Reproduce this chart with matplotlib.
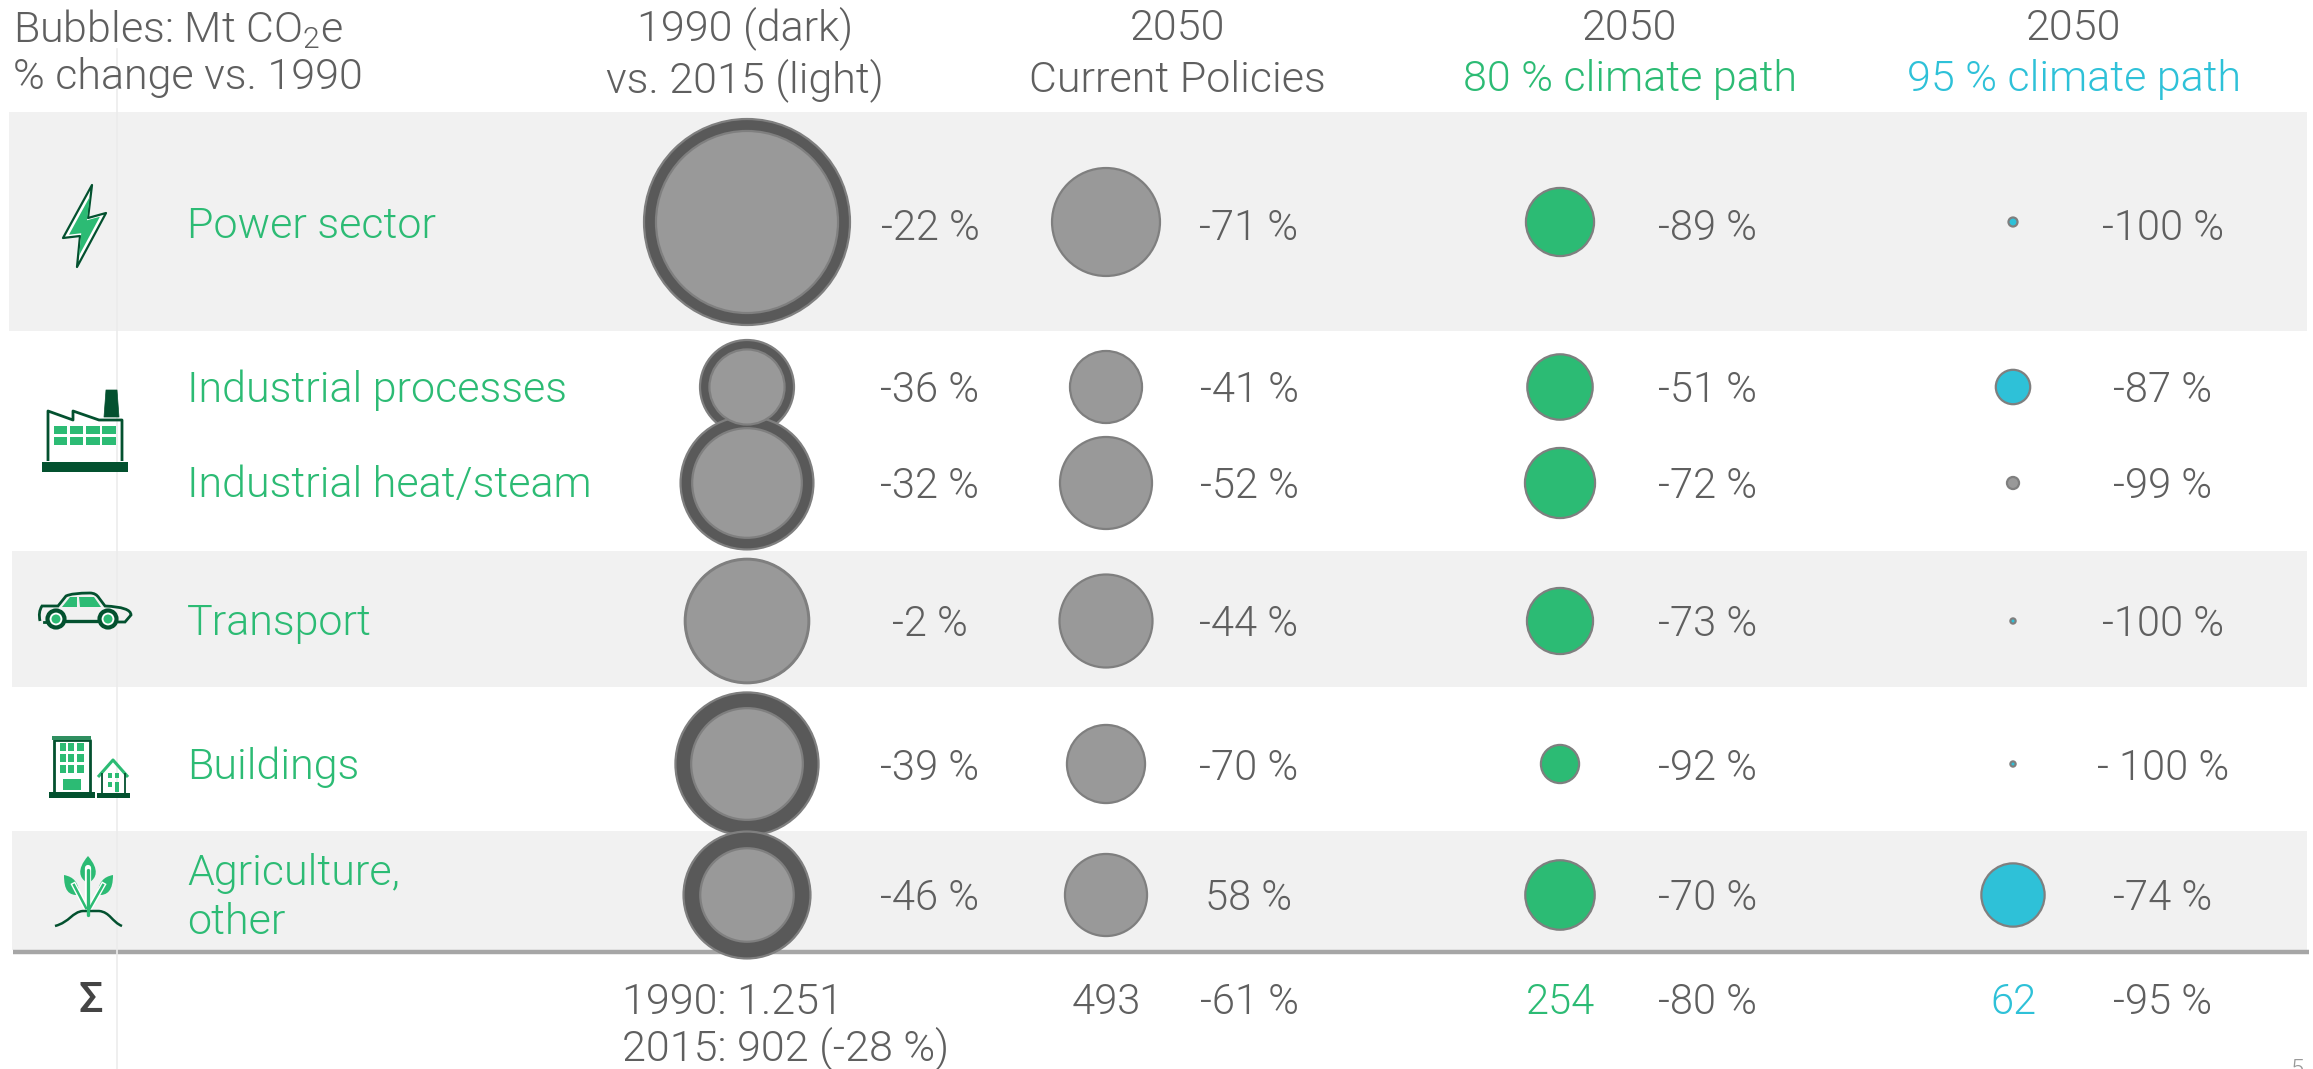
import numpy as np
import matplotlib
matplotlib.use("Agg")
import matplotlib.pyplot as plt
import matplotlib.patches as patches
from matplotlib.path import Path

plt.rcParams['font.family'] = ['Roboto', 'DejaVu Sans']
plt.rcParams['font.weight'] = 300
plt.rcParams['mathtext.default'] = 'regular'

# ------------------------
# Data (Mt CO2e, read from the bubbles)
# ------------------------
sectors = ["Power sector", "Industrial processes", "Industrial heat/steam",
           "Transport", "Buildings", "Agriculture,\nother"]
mt_1990 = [466, 97, 194, 170, 225, 177]
mt_2015 = [364, 62, 132, 166, 137, 96]
mt_current = [128, 57, 93, 95, 67, 74]
mt_80 = [51, 47, 54, 48, 16, 53]
mt_95 = [0.9, 13, 1.6, 0.3, 0.3, 44]

pct_2015 = ["-22 %", "-36 %", "-32 %", "-2 %", "-39 %", "-46 %"]
pct_current = ["-71 %", "-41 %", "-52 %", "-44 %", "-70 %", "58 %"]
pct_80 = ["-89 %", "-51 %", "-72 %", "-73 %", "-92 %", "-70 %"]
pct_95 = ["-100 %", "-87 %", "-99 %", "-100 %", "- 100 %", "-74 %"]

total_labels = ["493", "254", "62"]
total_pcts = ["-61 %", "-80 %", "-95 %"]

# ------------------------
# Layout (pixels of the 2313x1069 picture)
# ------------------------
W, H = 2313, 1069
ROW_Y = [222, 387, 483, 621, 764, 895]
TXT_Y = [228, 391, 487, 624, 768, 899]
COL_BUBBLE = [747, 1106, 1560, 2013]
COL_PCT = [930, 1249, 1708, 2163]
S_PER_MT = 47.2

GREEN = '#2cbb74'
DARKGREEN = '#03512f'
TEAL = '#2ec1d8'
GRIS = '#5f5f5f'
FS = 31
FS_PCT = 30

fig = plt.figure(figsize=(W / 100, H / 100), dpi=100)
ax = fig.add_axes([0, 0, 1, 1])
ax.set_xlim(0, W)
ax.set_ylim(H, 0)
ax.axis('off')

# Bands and lines
for x0, y0, y1 in [(9, 112, 331), (12, 551, 687), (12, 831, 950)]:
    ax.add_patch(patches.Rectangle((x0, y0), 2307 - x0, y1 - y0, facecolor='#f1f1f1', edgecolor='none', zorder=0))
ax.plot([13, 2309], [952, 952], color='#a6a6a6', lw=3.2, solid_capstyle='butt', zorder=1)
ax.plot([117, 117], [49, H], color='#ececec', lw=1.2, zorder=1.5)


def burbuja(x, y, mt, fondo, zorder=3, borde='#7f7f7f', lw=1.6):
    ax.scatter(x, y, s=S_PER_MT * np.asarray(mt), facecolor=fondo, edgecolor=borde, linewidth=lw, zorder=zorder)


# Bubbles
col1 = [COL_BUBBLE[0]] * 6
burbuja(col1, ROW_Y, mt_1990, '#595959', zorder=3)
burbuja(col1, ROW_Y, mt_2015, '#999999', zorder=4)
burbuja([COL_BUBBLE[1]] * 6, ROW_Y, mt_current, '#999999')
burbuja([COL_BUBBLE[2]] * 6, ROW_Y, mt_80, GREEN)
colores_95 = [TEAL, TEAL, '#999999', TEAL, TEAL, TEAL]
burbuja([COL_BUBBLE[3]] * 6, ROW_Y, mt_95, colores_95)


def texto(x, y, s, color=GRIS, ha='center', size=FS, **kw):
    ax.text(x, y, s, color=color, ha=ha, va='center', fontsize=size, zorder=6, **kw)


# Sector names and percentages
for nombre, y in zip(sectors, TXT_Y):
    if "\n" in nombre:
        a, b = nombre.split("\n")
        texto(187, 874, a, color=GREEN, ha='left')
        texto(187, 922, b, color=GREEN, ha='left')
    else:
        texto(187, y - 1, nombre, color=GREEN, ha='left')

for x, lista in zip(COL_PCT, [pct_2015, pct_current, pct_80, pct_95]):
    for s, y in zip(lista, TXT_Y):
        texto(x, y, s, size=FS_PCT)

# Header
texto(13, 29, r"Bubbles: Mt CO$_2$e", ha='left')
texto(13, 77, "% change vs. 1990", ha='left')
texto(745, 28, "1990 (dark)")
texto(745, 80, "vs. 2015 (light)")
texto(1177, 28, "2050")
texto(1177, 80, "Current Policies")
texto(1630, 28, "2050")
texto(1630, 80, "80 % climate path", color=GREEN)
texto(2074, 28, "2050")
texto(2074, 80, "95 % climate path", color=TEAL)

# Totals row
texto(622, 1003, "1990: 1.251", ha='left')
texto(622, 1048, "2015: 902 (-28 %)", ha='left')
for x, s, c in zip(COL_BUBBLE[1:], total_labels, [GRIS, GREEN, TEAL]):
    texto(x, 1003, s, color=c, size=FS_PCT)
for x, s in zip(COL_PCT[1:], total_pcts):
    texto(x, 1003, s, size=FS_PCT)
ax.text(91, 1001, "Σ", color='#444444', ha='center', va='center', fontsize=31,
        fontweight='medium', zorder=6)
ax.text(2298, 1058, "5", color='#999999', ha='center', va='top', fontsize=17, zorder=6)


# ------------------------
# Icons
# ------------------------
def poly(pts, fc='none', ec=DARKGREEN, lw=2.0, closed=True):
    ax.add_patch(patches.Polygon(pts, closed=closed, facecolor=fc, edgecolor=ec, linewidth=lw, joinstyle='round', zorder=5))


def caja(x0, y0, x1, y1, fc=GREEN):
    ax.add_patch(patches.Rectangle((x0, y0), x1 - x0, y1 - y0, facecolor=fc, edgecolor='none', zorder=5))


def curva(verts, codes, fc='none', ec=DARKGREEN, lw=2.0):
    ax.add_patch(patches.PathPatch(Path(verts, codes), facecolor=fc, edgecolor=ec, linewidth=lw, zorder=5))


# Lightning
rayo = np.array([(92, 185), (63, 238), (80, 236), (77, 267), (106, 213), (88, 218)], dtype=float)
poly(rayo, fc='white', lw=1.6)
centro = rayo.mean(axis=0)
poly(centro + (rayo - centro) * 0.72, fc=GREEN, ec='none')

# Factory
poly([(48, 461), (48, 411), (73, 420), (73, 411), (99, 420), (122, 420), (122, 461)], closed=False)
caja(42, 462, 128, 472, DARKGREEN)
poly([(106, 390), (117, 390), (119, 417), (104, 417)], fc=DARKGREEN, lw=0.5)
for xa, xb in [(54, 67), (70, 83), (86, 99.5), (102, 116)]:
    caja(xa, 426, xb, 434)
    caja(xa, 437, xb, 445)

# Car
MV, LN = Path.MOVETO, Path.LINETO
CB = Path.CURVE3
curva([(40, 621), (38, 612), (42, 606), (58, 606), (66, 596), (72, 593), (90, 593), (96, 593), (99, 598),
       (105, 606), (131, 607), (131, 615), (125, 622), (115, 622)],
      [MV, CB, CB, LN, LN, CB, LN, CB, CB, LN, CB, CB, LN, LN])
ax.plot([44, 47], [622, 622], color=DARKGREEN, lw=2, zorder=5)
ax.plot([66, 97], [621, 621], color=DARKGREEN, lw=2.4, zorder=5)
for cx in [56, 108]:
    ax.add_patch(patches.Circle((cx, 619), 8.5, facecolor='white', edgecolor=DARKGREEN, linewidth=3, zorder=5))
    ax.add_patch(patches.Circle((cx, 619), 4.5, facecolor=GREEN, edgecolor='none', zorder=5))
poly([(62, 607), (70, 597), (77, 597), (77, 607)], fc=GREEN, ec='none')
poly([(79, 597), (94, 597), (101, 607), (80, 607)], fc=GREEN, ec='none')

# Buildings
poly([(54, 795), (54, 740), (90, 740), (90, 795)], closed=False)
caja(52, 736, 91, 740, '#2f8f60')
caja(49, 792, 95, 798, DARKGREEN)
for fx in [(60, 66), (68, 74), (77, 84)]:
    for fy in [(743, 751), (754, 762), (765, 773)]:
        caja(fx[0], fy[0], fx[1], fy[1])
caja(63, 779, 81, 790)
poly([(98, 777), (113, 760), (128, 777)], closed=False, ec=GREEN, lw=2.2)
poly([(102, 773), (102, 794)], closed=False, lw=1.3)
poly([(125, 773), (125, 794)], closed=False, lw=1.3)
caja(97, 793, 130, 798, DARKGREEN)
caja(108, 773, 112, 778)
caja(115, 773, 119, 778)
caja(108, 782, 112, 787)
caja(115, 782, 119, 792)

# Plant
C4 = Path.CURVE4
curva([(55, 926), (70, 922), (72, 912), (83, 911), (88, 911), (93, 911), (99, 911), (110, 912), (112, 922), (122, 926)],
      [MV, C4, C4, C4, LN, LN, LN, C4, C4, C4], lw=1.8)
curva([(88, 856), (76, 870), (80, 878), (86, 882), (88, 882), (90, 882), (96, 878), (100, 870), (88, 856)],
      [MV, C4, C4, C4, LN, LN, C4, C4, C4], ec='none', fc=GREEN)
curva([(64, 875), (64, 890), (68, 896), (80, 895), (78, 882), (74, 877), (64, 875)],
      [MV, C4, C4, C4, C4, C4, C4], ec='none', fc=GREEN)
curva([(113, 875), (113, 890), (108, 896), (97, 895), (99, 882), (103, 877), (113, 875)],
      [MV, C4, C4, C4, C4, C4, C4], ec='none', fc=GREEN)
ax.plot([88, 88], [868, 905], color='white', lw=4.5, solid_capstyle='round', zorder=5.4)
ax.plot([74, 85], [885, 906], color='white', lw=3.8, zorder=5.4)
ax.plot([103, 91], [885, 906], color='white', lw=3.8, zorder=5.4)
ax.plot([88, 88], [870, 915], color=GREEN, lw=2.4, solid_capstyle='round', zorder=5.5)
ax.plot([74, 86], [885, 908], color=GREEN, lw=1.8, zorder=5.5)
ax.plot([103, 90], [885, 908], color=GREEN, lw=1.8, zorder=5.5)

fig.savefig("out.png", dpi=100)
